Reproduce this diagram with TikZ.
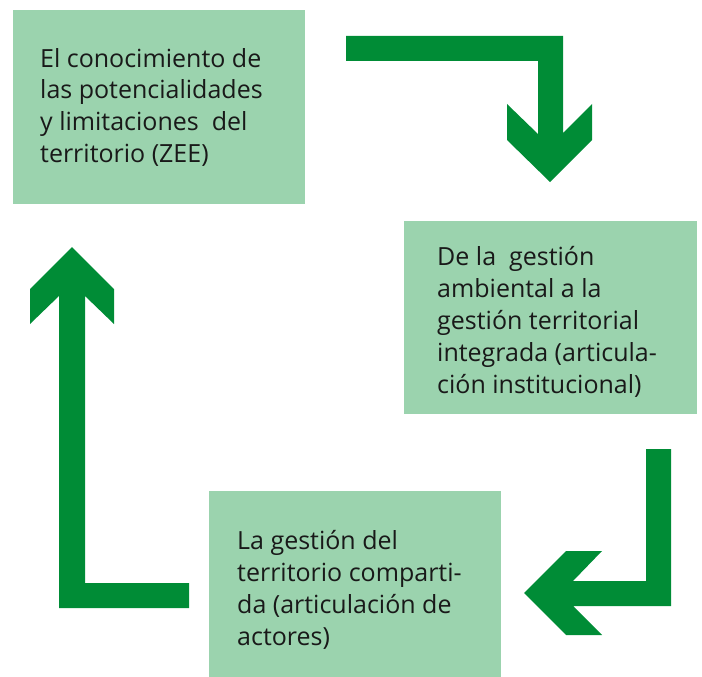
\documentclass[tikz,border=0pt]{standalone}
\usepackage{fontspec}
\setmainfont{Open Sans}
\definecolor{boxfill}{HTML}{9BD3AE}
\definecolor{arrgreen}{HTML}{008C36}
\newcommand\boxlines[1]{\begin{tabular}[t]{@{}l@{}}#1\end{tabular}}
\begin{document}
\begin{tikzpicture}[x=1pt,y=-1pt,
  stepbox/.style={fill=boxfill,draw=none,inner sep=0pt,anchor=north west},
  boxtext/.style={inner sep=0pt,anchor=base west,text=black!90,
     font=\fontsize{25}{32}\selectfont},
  bigarrow/.style={fill=arrgreen,draw=none}]
\useasboundingbox (0,0) rectangle (702,677);
% boxes
\node[stepbox,minimum width=292pt,minimum height=194pt] (b1) at (13,10) {};
\node[stepbox,minimum width=293pt,minimum height=193pt] (b2) at (404,221) {};
\node[stepbox,minimum width=292pt,minimum height=186pt] (b3) at (209,491) {};
% texts
\node[boxtext] (t1) at (40,67) {\boxlines{El conocimiento de\\las potencialidades\\y limitaciones\ \ del\\territorio (ZEE)}};
\node[boxtext] (t2) at (437,265) {\boxlines{De la\ \ gestión\\ambiental a la\\gestión territorial\\integrada (articula-\\ción institucional)}};
\node[boxtext] (t3) at (237,549) {\boxlines{La gestión del\\territorio comparti-\\da (articulación de\\actores)}};
% arrows
\fill[bigarrow] (346,36) -- (563,36) -- (563,133) -- (592,104) -- (592,140) -- (550,182)
  -- (507,140) -- (507,104) -- (538,134) -- (538,61) -- (346,61) -- cycle;
\fill[bigarrow] (671,449) -- (671,606) -- (573,606) -- (602,635) -- (566,635) -- (524,593)
  -- (566,551) -- (602,551) -- (573,581) -- (646,581) -- (646,449) -- cycle;
\fill[bigarrow] (59,608) -- (189,608) -- (189,583) -- (85,583) -- (85,296) -- (114,324)
  -- (114,289) -- (72,247) -- (30,289) -- (30,324) -- (59,296) -- cycle;
\end{tikzpicture}
\end{document}
